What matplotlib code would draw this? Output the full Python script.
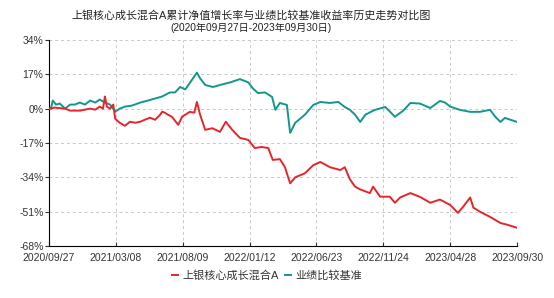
import numpy as np
import matplotlib
matplotlib.use("Agg")
import matplotlib.pyplot as plt

plt.rcParams['font.family']=['Liberation Sans','Noto Sans CJK SC','DejaVu Sans']

title="上银核心成长混合A累计净值增长率与业绩比较基准收益率历史走势对比图"
subtitle="(2020年09月27日-2023年09月30日)"
tick_labels=["2020/09/27","2021/03/08","2021/08/09","2022/01/12","2022/06/23","2022/11/24","2023/04/28","2023/09/30"]
n_days=728
y_ticks=[34,17,0,-17,-34,-51,-68]

fund_name="上银核心成长混合A"
fund_day=[0,9,25,33,48,56,64,72,79,84,87,90,95,100,103,110,118,126,134,142,149,157,165,173,176,180,185,191,
          201,207,219,226,230,235,243,254,266,275,285,297,310,320,331,341,348,359,367,375,383,398,411,422,437,
          453,460,468,476,484,499,504,515,530,538,546,562,577,593,608,624,636,644,655,660,670,686,702,714,728]
fund_ret=[0,0.5,0,-1,-1,-0.5,0,-0.5,1,0,6,1,0,2,-5,-7,-8.5,-6.5,-7,-6.5,-5.5,-4.5,-5.5,-3,-1.5,-2,-3,-4,
          -8,-4,-1.6,-2,3.3,-3,-10.5,-9.7,-11.5,-6.5,-10.5,-14.5,-15.5,-19.5,-19,-19.5,-25.4,-25,-29,-37,-34,
          -32,-28,-26.4,-29,-30.4,-29,-35,-38.6,-40,-41.8,-38.6,-43.6,-43.6,-46.6,-44,-41.8,-43.7,-46.6,-45,
          -47.7,-51.6,-48.6,-44,-49,-51,-53.6,-56.6,-57.6,-59]

bench_name="业绩比较基准"
bench_day=[0,3,6,11,17,25,33,40,48,56,64,72,79,87,95,103,110,118,129,142,154,165,176,188,196,204,212,219,
           230,235,243,255,266,282,297,310,317,325,336,347,352,359,370,375,383,398,411,422,437,450,460,468,
           476,484,492,507,523,538,551,562,577,593,608,616,624,639,655,670,686,694,702,709,728]
bench_ret=[0,0,4,2,2.5,0,2,2,3,2,4,3,4.5,3,2,-1.5,0,1,1.5,3,4,5,6,8,8,10.7,9.5,12.7,17.8,15,11.7,10.7,
           11.7,13,14.6,13,10,7.7,8,5.8,-0.6,2.8,1.8,-12,-7,-3,1.8,3.3,2.8,3.3,0.8,-0.6,-3,-6.6,-3,-0.6,
           0.8,-4,-1,2.8,2.5,0.3,3.8,3,1,-0.6,-1.6,-1.6,-0.6,-4,-6.6,-4.6,-6.6]

red="#e5262b"
teal="#14968c"

fig=plt.figure(figsize=(5.54,2.98),dpi=100)
ax=fig.add_axes([0.0884,0.1745,0.845,0.6915])
ax.plot(bench_day,bench_ret,color=teal,lw=1.4,label=bench_name,zorder=3)
ax.plot(fund_day,fund_ret,color=red,lw=1.4,label=fund_name,zorder=4)

ax.set_xlim(0,n_days)
ax.set_ylim(-68,34)
ax.set_yticks(y_ticks)
ax.set_yticklabels([f"{v}%" for v in y_ticks])
ax.set_xticks(np.linspace(0,n_days,len(tick_labels)))
ax.set_xticklabels(tick_labels)
ax.tick_params(axis='both',labelsize=7.5,colors="#333333",length=3,width=0.8,pad=1)
ax.tick_params(axis='x',direction='in',pad=5)
ax.grid(True,linestyle=(0,(3,3)),color="#c8c8c8",lw=0.7)
for s in ["top","right"]:
    ax.spines[s].set_visible(False)
ax.spines["left"].set_color("black")
ax.spines["bottom"].set_color("black")

fig.text(0.453,0.95,title,ha='center',va='center',fontsize=7.9,color="#222222")
fig.text(0.453,0.906,subtitle,ha='center',va='center',fontsize=7.3,color="#222222")

h,l=ax.get_legend_handles_labels()
leg=fig.legend(h[::-1],l[::-1],loc='center',bbox_to_anchor=(0.482,0.074),ncol=2,frameon=False,
               fontsize=8,handlelength=0.5,handletextpad=0.4,columnspacing=0.6)
for t in leg.get_texts(): t.set_color("#333333")

fig.savefig("out.png",dpi=100)
